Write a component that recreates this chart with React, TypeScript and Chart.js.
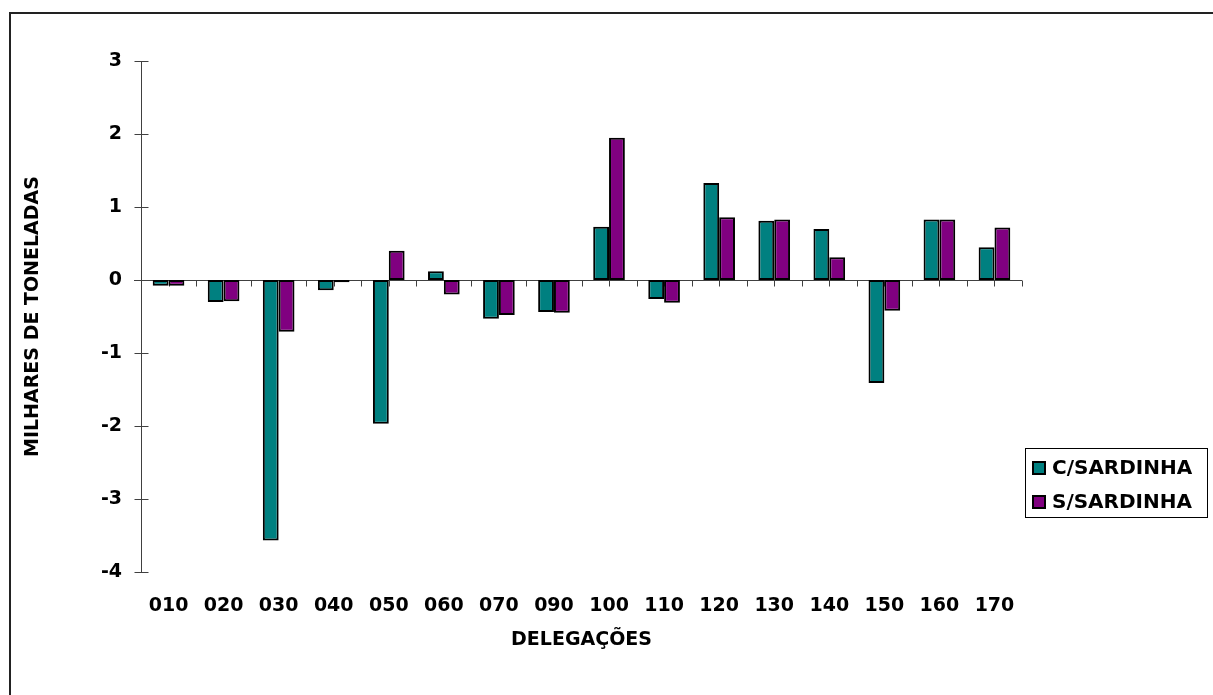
import React, { useEffect, useRef } from "react";
import { Chart, registerables } from "chart.js";

Chart.register(...registerables);

const categories = ["010", "020", "030", "040", "050", "060", "070", "090", "100", "110", "120", "130", "140", "150", "160", "170"];
const cSardinha = [-0.08, -0.30, -3.57, -0.14, -1.97, 0.12, -0.53, -0.44, 0.73, -0.26, 1.33, 0.81, 0.70, -1.41, 0.83, 0.45];
const sSardinha = [-0.08, -0.29, -0.71, -0.03, 0.40, -0.20, -0.48, -0.45, 1.95, -0.31, 0.86, 0.83, 0.31, -0.42, 0.83, 0.72];
const seriesNames = ["C/SARDINHA", "S/SARDINHA"];
const seriesColors = ["#008080", "#800080"];
const yMin = -4;
const yMax = 3;
const xTitle = "DELEGAÇÕES";
const yTitle = "MILHARES DE TONELADAS";

const FONT = "'DejaVu Sans', Verdana, sans-serif";

const framePlugin = {
  id: "frame",
  beforeDraw(chart: any) {
    const ctx = chart.ctx;
    ctx.save();
    ctx.fillStyle = "#ffffff";
    ctx.fillRect(0, 0, chart.width, chart.height);
    ctx.strokeStyle = "#222222";
    ctx.lineWidth = 2;
    ctx.beginPath();
    ctx.moveTo(10, chart.height);
    ctx.lineTo(10, 13);
    ctx.lineTo(chart.width, 13);
    ctx.stroke();
    ctx.restore();
  },
};

const axesPlugin = {
  id: "axesLines",
  beforeDatasetsDraw(chart: any) {
    const ctx = chart.ctx;
    const x = chart.scales.x;
    const y = chart.scales.y;
    const area = chart.chartArea;
    ctx.save();
    ctx.strokeStyle = "#404040";
    ctx.lineWidth = 1;
    const ax = Math.round(area.left) + 0.5;
    ctx.beginPath();
    ctx.moveTo(ax, area.top);
    ctx.lineTo(ax, area.bottom);
    for (let v = yMin; v <= yMax; v++) {
      const py = Math.round(y.getPixelForValue(v)) + 0.5;
      ctx.moveTo(ax - 7, py);
      ctx.lineTo(ax + 7, py);
    }
    const zy = Math.round(y.getPixelForValue(0)) + 0.5;
    ctx.moveTo(area.left - 7, zy);
    ctx.lineTo(area.right, zy);
    const n = categories.length;
    const w = (area.right - area.left) / n;
    for (let i = 0; i <= n; i++) {
      const bx = Math.round(area.left + i * w) + 0.5;
      ctx.moveTo(bx, zy);
      ctx.lineTo(bx, zy + 6);
      if (i < n) {
        const cx = Math.round(x.getPixelForValue(i)) + 0.5;
        ctx.moveTo(cx, zy);
        ctx.lineTo(cx, zy + 6);
      }
    }
    ctx.stroke();
    ctx.restore();
  },
};

const legendPlugin = {
  id: "boxLegend",
  afterDraw(chart: any) {
    const ctx = chart.ctx;
    ctx.save();
    ctx.strokeStyle = "#000000";
    ctx.lineWidth = 1;
    ctx.strokeRect(1025.5, 448.5, 182, 69);
    ctx.font = "bold 20px " + FONT;
    ctx.textBaseline = "middle";
    ctx.textAlign = "left";
    chart.data.datasets.forEach((ds: any, i: number) => {
      const top = 461 + i * 34;
      ctx.fillStyle = ds.backgroundColor;
      ctx.fillRect(1032, top, 14, 14);
      ctx.lineWidth = 2;
      ctx.strokeStyle = "#000000";
      ctx.strokeRect(1033, top + 1, 12, 12);
      ctx.fillStyle = "#000000";
      ctx.fillText(ds.label, 1052, top + 8);
    });
    ctx.restore();
  },
};

export default function App() {
  const canvasRef = useRef<HTMLCanvasElement | null>(null);

  useEffect(() => {
    const canvas = canvasRef.current;
    if (!canvas) return;
    const chart = new Chart(canvas, {
      type: "bar",
      data: {
        labels: categories,
        datasets: [
          {
            label: seriesNames[0],
            data: cSardinha,
            backgroundColor: seriesColors[0],
            borderColor: "#000000",
            borderWidth: 2,
            borderSkipped: false,
          },
          {
            label: seriesNames[1],
            data: sSardinha,
            backgroundColor: seriesColors[1],
            borderColor: "#000000",
            borderWidth: 2,
            borderSkipped: false,
          },
        ],
      },
      options: {
        animation: false,
        responsive: false,
        devicePixelRatio: 1,
        layout: { padding: { left: 10, right: 191, top: 61, bottom: 0 } },
        datasets: { bar: { categoryPercentage: 0.575, barPercentage: 1 } },
        plugins: {
          legend: { display: false },
          tooltip: { enabled: false },
        },
        scales: {
          x: {
            type: "category",
            offset: true,
            grid: { display: false, drawTicks: false },
            border: { display: false },
            ticks: {
              color: "#000000",
              font: { family: FONT, size: 19, weight: "bold" },
              padding: 23,
              autoSkip: false,
              maxRotation: 0,
              minRotation: 0,
            },
            title: {
              display: true,
              text: xTitle,
              color: "#000000",
              font: { family: FONT, size: 19, weight: "bold" },
              padding: { top: 0, bottom: 44 },
            },
            afterFit(scale: any) {
              scale.height = 123;
            },
          },
          y: {
            min: yMin,
            max: yMax,
            grid: { display: false, drawTicks: false },
            border: { display: false },
            ticks: {
              stepSize: 1,
              color: "#000000",
              font: { family: FONT, size: 19, weight: "bold" },
              padding: 19,
            },
            title: {
              display: true,
              text: yTitle,
              color: "#000000",
              font: { family: FONT, size: 19, weight: "bold" },
              padding: { top: 12, bottom: 0 },
            },
            afterFit(scale: any) {
              scale.width = 131;
            },
          },
        },
      },
      plugins: [framePlugin, axesPlugin, legendPlugin],
    } as any);
    return () => chart.destroy();
  }, []);

  return (
    <canvas
      ref={canvasRef}
      width={1213}
      height={695}
      style={{ position: "fixed", left: 0, top: 0, width: 1213, height: 695, display: "block" }}
    />
  );
}
